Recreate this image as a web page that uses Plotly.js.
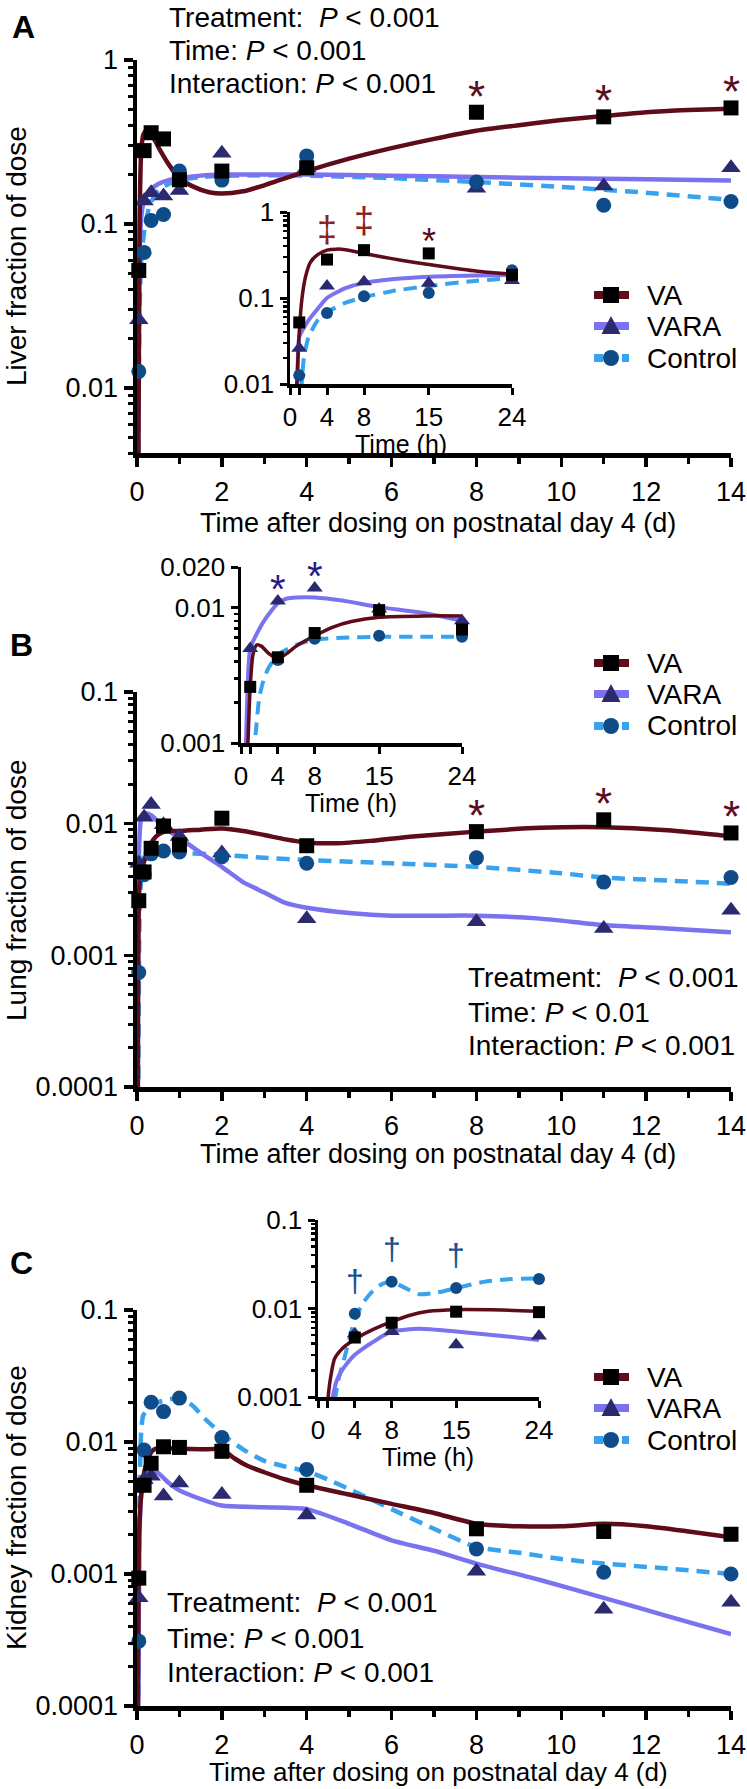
<!DOCTYPE html>
<html><head><meta charset="utf-8">
<script src="https://cdn.plot.ly/plotly-3.0.1.min.js"></script>
<style>html,body{margin:0;padding:0;background:#fff;}#chart{width:747px;height:1789px;}</style>
</head><body><div id="chart"></div>
<script>
// ---------------- DATA ----------------
const sampleHours = [1, 4, 8, 15, 24];
const sampleDays = [0.042, 0.167, 0.333, 0.625, 1, 2, 4, 8, 11, 14];

// Liver fraction of dose
const liverVA = [0.052, 0.28, 0.36, 0.33, 0.186, 0.21, 0.22, 0.48, 0.45, 0.51];
const liverVARA = [0.026, 0.138, 0.155, 0.148, 0.16, 0.27, 0.22, 0.165, 0.17, 0.22];
const liverControl = [0.0126, 0.067, 0.105, 0.114, 0.21, 0.185, 0.26, 0.18, 0.13, 0.137];
const liverMainSig = ['', '', '', '', '', '', '', '*', '*', '*'];
const liverInsetSig = ['', '‡', '‡', '*', ''];

// Lung fraction of dose
const lungVA = [0.0026, 0.0043, 0.0065, 0.0096, 0.0069, 0.011, 0.0068, 0.0087, 0.0107, 0.0085];
const lungVARA = [0.005, 0.0112, 0.014, 0.0098, 0.008, 0.006, 0.0019, 0.0018, 0.0016, 0.0022];
const lungControl = [0.00074, 0.0041, 0.0059, 0.0062, 0.0061, 0.0056, 0.005, 0.0055, 0.0036, 0.0039];
const lungMainSig = ['', '', '', '', '', '', '', '*', '*', '*'];
const lungInsetSig = ['', '*', '*', '', ''];

// Kidney fraction of dose
const kidneyVA = [0.00093, 0.0047, 0.0069, 0.0092, 0.0091, 0.0085, 0.0047, 0.0022, 0.0021, 0.002];
const kidneyVARA = [0.00066, 0.0052, 0.0055, 0.0039, 0.0049, 0.004, 0.0028, 0.00105, 0.00054, 0.00061];
const kidneyControl = [0.00031, 0.0087, 0.02, 0.017, 0.0215, 0.0108, 0.0062, 0.00155, 0.00103, 0.001];
const kidneyInsetSig = ['', '†', '†', '†', ''];

// Fitted curves, main panels (days)
const liverVACurveT = [0.03, 0.06, 0.1, 0.15, 0.22, 0.3, 0.4, 0.55, 0.75, 1, 1.3, 1.7, 2, 2.5, 3, 4, 5, 6, 7, 8, 9, 10, 11, 12, 13, 14];
const liverVACurve = [0.003, 0.1, 0.28, 0.35, 0.37, 0.36, 0.33, 0.28, 0.23, 0.19, 0.17, 0.156, 0.153, 0.158, 0.172, 0.21, 0.25, 0.29, 0.33, 0.37, 0.40, 0.43, 0.455, 0.48, 0.495, 0.505];
const liverVARACurveT = [0.02, 0.05, 0.1, 0.17, 0.3, 0.5, 0.75, 1, 1.5, 2, 3, 4, 6, 8, 10, 12, 14];
const liverVARACurve = [0.003, 0.05, 0.11, 0.14, 0.16, 0.175, 0.185, 0.19, 0.197, 0.2, 0.2, 0.2, 0.197, 0.193, 0.19, 0.187, 0.184];
const liverCtrlCurveT = [0.03, 0.06, 0.1, 0.17, 0.3, 0.5, 0.75, 1, 1.5, 2, 3, 4, 6, 8, 10, 12, 14];
const liverCtrlCurve = [0.003, 0.03, 0.06, 0.09, 0.13, 0.16, 0.175, 0.185, 0.193, 0.196, 0.198, 0.197, 0.19, 0.18, 0.168, 0.155, 0.14];

const lungVACurveT = [0.02, 0.05, 0.1, 0.2, 0.3, 0.45, 0.6, 0.8, 1, 1.5, 2, 2.5, 3, 3.5, 4, 4.7, 5.5, 6.5, 8, 9.5, 11, 12.5, 14];
const lungVACurve = [0.00008, 0.003, 0.0045, 0.0055, 0.0068, 0.008, 0.0086, 0.0088, 0.0088, 0.009, 0.0092, 0.0088, 0.0082, 0.0076, 0.0072, 0.0071, 0.0074, 0.008, 0.0087, 0.0093, 0.0094, 0.0089, 0.008];
const lungVARACurveT = [0.02, 0.04, 0.1, 0.2, 0.35, 0.6, 1, 1.5, 2, 2.5, 3, 3.5, 4, 5, 6, 7, 8, 9.5, 11, 12.5, 14];
const lungVARACurve = [0.00008, 0.005, 0.011, 0.012, 0.0115, 0.0095, 0.0078, 0.006, 0.0047, 0.0036, 0.003, 0.0025, 0.0023, 0.0021, 0.002, 0.002, 0.002, 0.0019, 0.0017, 0.0016, 0.0015];
const lungCtrlCurveT = [0.03, 0.06, 0.1, 0.15, 0.25, 0.4, 0.6, 1, 2, 3, 4, 6, 8, 10, 11, 12.5, 14];
const lungCtrlCurve = [0.00008, 0.002, 0.004, 0.0055, 0.006, 0.0061, 0.0061, 0.006, 0.0058, 0.0055, 0.0053, 0.005, 0.0047, 0.0042, 0.0039, 0.0037, 0.0035];

const kidneyVACurveT = [0.02, 0.05, 0.1, 0.2, 0.35, 0.5, 1, 1.5, 2, 2.3, 2.6, 3, 3.5, 4, 5, 6, 7, 8, 9, 10, 11, 12, 13, 14];
const kidneyVACurve = [0.00008, 0.002, 0.004, 0.0065, 0.0085, 0.009, 0.0089, 0.0088, 0.0088, 0.0075, 0.0066, 0.0059, 0.0052, 0.0047, 0.004, 0.0034, 0.0029, 0.0024, 0.0023, 0.0023, 0.0024, 0.0023, 0.0021, 0.0019];
const kidneyVARACurveT = [0.03, 0.06, 0.1, 0.2, 0.3, 0.5, 0.75, 1, 1.5, 2, 3, 4, 5, 6, 7, 8, 9.5, 11, 12.5, 14];
const kidneyVARACurve = [0.00008, 0.002, 0.004, 0.0058, 0.0062, 0.0058, 0.0049, 0.0043, 0.0037, 0.0033, 0.0032, 0.0031, 0.0024, 0.0018, 0.0015, 0.0012, 0.0009, 0.00066, 0.00048, 0.00035];
const kidneyCtrlCurveT = [0.03, 0.06, 0.1, 0.15, 0.3, 0.5, 0.75, 1, 1.3, 1.6, 2, 2.5, 3, 3.5, 4, 4.5, 5, 5.5, 6, 7, 8, 9, 10, 11, 12.5, 14];
const kidneyCtrlCurve = [0.00008, 0.004, 0.012, 0.016, 0.018, 0.02, 0.021, 0.0215, 0.019, 0.015, 0.0115, 0.0088, 0.0072, 0.0065, 0.006, 0.0052, 0.0044, 0.0037, 0.0031, 0.0022, 0.0016, 0.00145, 0.0013, 0.0012, 0.0011, 0.001];

// Fitted curves, insets (hours)
const liverInVAT = [0.7, 1, 1.3, 1.7, 2.2, 3, 4, 5, 6, 8, 10, 12, 15, 18, 21, 24];
const liverInVA = [0.008, 0.04, 0.1, 0.18, 0.26, 0.32, 0.36, 0.37, 0.365, 0.33, 0.3, 0.275, 0.245, 0.22, 0.2, 0.19];
const liverInVARAT = [0.8, 1, 1.5, 2, 3, 4, 6, 8, 11, 15, 20, 24];
const liverInVARA = [0.008, 0.035, 0.045, 0.055, 0.075, 0.1, 0.13, 0.15, 0.165, 0.177, 0.183, 0.185];
const liverInCtrlT = [1.2, 1.5, 2, 3, 4, 6, 8, 11, 15, 20, 24];
const liverInCtrl = [0.008, 0.02, 0.035, 0.055, 0.068, 0.088, 0.102, 0.12, 0.138, 0.158, 0.17];

const lungInVAT = [0.7, 1, 1.3, 1.7, 2.2, 3, 4, 5, 6, 8, 10, 12, 15, 20, 24];
const lungInVA = [0.0008, 0.0026, 0.0045, 0.0053, 0.0052, 0.0046, 0.0042, 0.0046, 0.0052, 0.0062, 0.0072, 0.0079, 0.0085, 0.0087, 0.0087];
const lungInVARAT = [0.5, 0.8, 1.0, 1.5, 2.5, 4, 5, 6, 8, 11, 15, 20, 24];
const lungInVARA = [0.0008, 0.0035, 0.005, 0.006, 0.008, 0.0108, 0.0117, 0.0119, 0.0119, 0.0113, 0.0101, 0.0091, 0.008];
const lungInCtrlT = [1.3, 1.6, 2, 2.5, 3, 4, 6, 8, 11, 15, 20, 24];
const lungInCtrl = [0.0008, 0.0012, 0.0022, 0.003, 0.0036, 0.0045, 0.0053, 0.0058, 0.006, 0.0061, 0.0061, 0.0061];

const kidneyInVAT = [1.0, 1.3, 1.8, 2.5, 3, 4, 6, 8, 10, 12, 15, 20, 24];
const kidneyInVA = [0.0008, 0.0015, 0.0027, 0.0034, 0.0038, 0.0045, 0.0058, 0.0071, 0.0084, 0.0093, 0.0097, 0.0096, 0.0093];
const kidneyInVARAT = [1.5, 2, 2.6, 3.3, 4, 5, 6, 7, 8, 11, 15, 20, 24];
const kidneyInVARA = [0.0009, 0.0015, 0.002, 0.0025, 0.003, 0.0036, 0.0042, 0.0049, 0.0055, 0.0059, 0.0055, 0.0049, 0.0044];
const kidneyInCtrlT = [1.8, 2.3, 2.8, 3.4, 4, 5, 6, 7, 8, 9.5, 11, 13, 15, 18, 21, 24];
const kidneyInCtrl = [0.0009, 0.0017, 0.0026, 0.0045, 0.0075, 0.012, 0.016, 0.019, 0.02, 0.017, 0.0145, 0.0152, 0.017, 0.02, 0.0215, 0.0218];

const mainXTicks = [0, 2, 4, 6, 8, 10, 12, 14];
const insetXTicks = [0, 1, 4, 8, 15, 24];
const insetXText = ['0', '', '4', '8', '15', '24'];
const seriesNames = ['VA', 'VARA', 'Control'];

// ---------------- STYLE / LAYOUT ----------------
const W = 747, H = 1789;
const px = x => x / W;
const py = y => 1 - y / H;
const FONT = 'Liberation Sans, Arial, Helvetica, sans-serif';
const C_VA = '#5e0b1a', C_VARA = '#7a72ef', C_CTRL = '#38a2ef';
const M_VA = '#000000', M_VARA = '#2b2a6f', M_CTRL = '#0f4b89';
const DASH = '13px,8px';

function minorLog(lo, hi) {
  const out = [];
  for (let d = Math.floor(Math.log10(lo)); d <= Math.ceil(Math.log10(hi)); d++) {
    for (let k = 2; k <= 9; k++) {
      const v = k * Math.pow(10, d);
      if (v >= lo * 0.999 && v <= hi * 1.001) out.push(v);
    }
  }
  return out;
}

function curve(xa, ya, x, y, color, dash, width) {
  return {type: 'scatter', mode: 'lines', x, y, xaxis: xa, yaxis: ya,
    line: {color, width, dash, shape: 'spline', smoothing: 0.6}, hoverinfo: 'skip', showlegend: false};
}
function pts(xa, ya, x, y, symbol, color, size, name) {
  return {type: 'scatter', mode: 'markers', name, x, y, xaxis: xa, yaxis: ya, cliponaxis: false,
    marker: {symbol, color, size, line: {width: 0}}, hoverinfo: 'skip', showlegend: false};
}

function panelTraces(xm, ym, xi, yi, d) {
  const t = [];
  t.push(curve(xi, yi, d.inCtrlT, d.inCtrl, C_CTRL, DASH, 4));
  t.push(curve(xi, yi, d.inVARAT, d.inVARA, C_VARA, 'solid', 4));
  t.push(curve(xi, yi, d.inVAT, d.inVA, C_VA, 'solid', 3.5));
  t.push(curve(xm, ym, d.ctrlT, d.ctrl, C_CTRL, DASH, 4.5));
  t.push(curve(xm, ym, d.varaT, d.vara, C_VARA, 'solid', 4.5));
  t.push(curve(xm, ym, d.vaT, d.va, C_VA, 'solid', 4.5));
  t.push(pts(xi, yi, sampleHours, d.pVARA.slice(0, 5), 'triangle-up', M_VARA, 14, 'VARA'));
  t.push(pts(xi, yi, sampleHours, d.pCtrl.slice(0, 5), 'circle', M_CTRL, 12, 'Control'));
  t.push(pts(xi, yi, sampleHours, d.pVA.slice(0, 5), 'square', M_VA, 12, 'VA'));
  t.push(pts(xm, ym, sampleDays, d.pVARA, 'triangle-up', M_VARA, 17, 'VARA'));
  t.push(pts(xm, ym, sampleDays, d.pCtrl, 'circle', M_CTRL, 15, 'Control'));
  t.push(pts(xm, ym, sampleDays, d.pVA, 'square', M_VA, 15, 'VA'));
  return t;
}

const traces = [].concat(
  panelTraces('x', 'y', 'x2', 'y2', {
    inVAT: liverInVAT, inVA: liverInVA, inVARAT: liverInVARAT, inVARA: liverInVARA, inCtrlT: liverInCtrlT, inCtrl: liverInCtrl,
    vaT: liverVACurveT, va: liverVACurve, varaT: liverVARACurveT, vara: liverVARACurve, ctrlT: liverCtrlCurveT, ctrl: liverCtrlCurve,
    pVA: liverVA, pVARA: liverVARA, pCtrl: liverControl}),
  panelTraces('x3', 'y3', 'x4', 'y4', {
    inVAT: lungInVAT, inVA: lungInVA, inVARAT: lungInVARAT, inVARA: lungInVARA, inCtrlT: lungInCtrlT, inCtrl: lungInCtrl,
    vaT: lungVACurveT, va: lungVACurve, varaT: lungVARACurveT, vara: lungVARACurve, ctrlT: lungCtrlCurveT, ctrl: lungCtrlCurve,
    pVA: lungVA, pVARA: lungVARA, pCtrl: lungControl}),
  panelTraces('x5', 'y5', 'x6', 'y6', {
    inVAT: kidneyInVAT, inVA: kidneyInVA, inVARAT: kidneyInVARAT, inVARA: kidneyInVARA, inCtrlT: kidneyInCtrlT, inCtrl: kidneyInCtrl,
    vaT: kidneyVACurveT, va: kidneyVACurve, varaT: kidneyVARACurveT, vara: kidneyVARACurve, ctrlT: kidneyCtrlCurveT, ctrl: kidneyCtrlCurve,
    pVA: kidneyVA, pVARA: kidneyVARA, pCtrl: kidneyControl})
);

function mainX(anchor) {
  return {domain: [px(137), px(731)], anchor, range: [0, 14], tickmode: 'array', tickvals: mainXTicks,
    ticks: 'outside', ticklen: 9, tickwidth: 3.5, tickcolor: '#000', ticklabelstandoff: 2,
    showline: true, linewidth: 4.5, linecolor: '#000', showgrid: false, zeroline: false,
    tickfont: {family: FONT, size: 27, color: '#000'},
    minor: {tickmode: 'linear', tick0: 1, dtick: 2, ticks: 'outside', ticklen: 6, tickwidth: 3.5, tickcolor: '#000', showgrid: false}};
}
function mainY(anchor, top, bottom, lo, hi, vals, text) {
  return {domain: [py(bottom), py(top)], anchor, type: 'log', range: [Math.log10(lo), Math.log10(hi)],
    tickmode: 'array', tickvals: vals, ticktext: text,
    ticks: 'outside', ticklen: 9, tickwidth: 3.5, tickcolor: '#000',
    showline: true, linewidth: 4.5, linecolor: '#000', showgrid: false, zeroline: false,
    tickfont: {family: FONT, size: 27, color: '#000'},
    minor: {tickmode: 'array', tickvals: minorLog(lo, hi), ticks: 'outside', ticklen: 5, tickwidth: 3, tickcolor: '#000', showgrid: false}};
}
function insetX(anchor, x0, x1) {
  return {domain: [px(x0), px(x1)], anchor, range: [0, 24], tickmode: 'array', tickvals: insetXTicks, ticktext: insetXText,
    ticks: 'outside', ticklen: 7, tickwidth: 3, tickcolor: '#000', ticklabelstandoff: 0,
    showline: true, linewidth: 3.5, linecolor: '#000', showgrid: false, zeroline: false,
    tickfont: {family: FONT, size: 26, color: '#000'}};
}
function insetY(anchor, top, bottom, lo, hi, vals, text) {
  return {domain: [py(bottom), py(top)], anchor, type: 'log', range: [Math.log10(lo), Math.log10(hi)],
    tickmode: 'array', tickvals: vals, ticktext: text,
    ticks: 'outside', ticklen: 7, tickwidth: 3, tickcolor: '#000',
    showline: true, linewidth: 3.5, linecolor: '#000', showgrid: false, zeroline: false,
    tickfont: {family: FONT, size: 26, color: '#000'},
    minor: {tickmode: 'array', tickvals: minorLog(lo, hi), ticks: 'outside', ticklen: 4, tickwidth: 2.5, tickcolor: '#000', showgrid: false}};
}

const ann = [];
const shapes = [];
function txt(x, y, text, size, opts) {
  ann.push(Object.assign({xref: 'paper', yref: 'paper', x: px(x), y: py(y), text, showarrow: false,
    font: {family: FONT, size, color: '#000'}, xanchor: 'center', yanchor: 'middle'}, opts || {}));
}
function sig(xa, ya, times, vals, syms, colorMap, size, shiftMap) {
  syms.forEach((s, i) => {
    if (!s) return;
    ann.push({xref: xa, yref: ya, x: times[i], y: Math.log10(vals[i]), text: s, showarrow: false,
      font: {family: FONT, size, color: colorMap[s]}, xanchor: 'center', yanchor: 'middle', yshift: shiftMap[s]});
  });
}

// legend drawn as shapes + text (rows given by centre y, px)
function legend(rows) {
  const lc = [C_VA, C_VARA, C_CTRL], mc = [M_VA, M_VARA, M_CTRL];
  rows.forEach((yc, i) => {
    shapes.push({type: 'line', xref: 'paper', yref: 'paper', x0: px(594), x1: px(629), y0: py(yc), y1: py(yc),
      line: {color: lc[i], width: 8, dash: i === 2 ? '9px,5px' : 'solid'}});
    const cx = 611, r = 8;
    if (i === 0) {
      shapes.push({type: 'rect', xref: 'paper', yref: 'paper', x0: px(cx - r), x1: px(cx + r), y0: py(yc + r), y1: py(yc - r),
        fillcolor: mc[i], line: {width: 0}});
    } else if (i === 1) {
      const p = `M ${px(cx - 9.5)} ${py(yc + 8)} L ${px(cx + 9.5)} ${py(yc + 8)} L ${px(cx)} ${py(yc - 10)} Z`;
      shapes.push({type: 'path', xref: 'paper', yref: 'paper', path: p, fillcolor: mc[i], line: {width: 0}});
    } else {
      shapes.push({type: 'circle', xref: 'paper', yref: 'paper', x0: px(cx - r), x1: px(cx + r), y0: py(yc + r), y1: py(yc - r),
        fillcolor: mc[i], line: {width: 0}});
    }
    txt(645, yc, seriesNames[i], 28, {xanchor: 'left'});
  });
}
legend([295, 326, 358]);
legend([663, 694, 726]);
legend([1377, 1408, 1440]);

// panel letters
txt(23, 27, '<b>A</b>', 32);
txt(21, 645, '<b>B</b>', 32);
txt(21, 1263, '<b>C</b>', 32);
// statistics
const statLines = ['Treatment:&nbsp; <i>P</i> &lt; 0.001', 'Time: <i>P</i> &lt; 0.001', 'Interaction: <i>P</i> &lt; 0.001'];
const statLinesB = ['Treatment:&nbsp; <i>P</i> &lt; 0.001', 'Time: <i>P</i> &lt; 0.01', 'Interaction: <i>P</i> &lt; 0.001'];
[17, 50, 83].forEach((y, i) => txt(167, y, statLines[i], 28, {xanchor: 'left'}));
[977, 1012, 1045].forEach((y, i) => txt(466, y, statLinesB[i], 28, {xanchor: 'left'}));
[1602, 1638, 1672].forEach((y, i) => txt(165, y, statLines[i], 28, {xanchor: 'left'}));
// axis titles
const xTitle = 'Time after dosing on postnatal day 4 (d)';
txt(438, 523, xTitle, 27);
txt(438, 1154, xTitle, 27);
txt(438, 1772, xTitle, 26);
txt(16, 256, 'Liver fraction of dose', 28, {textangle: -90});
txt(16, 890, 'Lung fraction of dose', 28, {textangle: -90});
txt(16, 1508, 'Kidney fraction of dose', 28, {textangle: -90});
txt(401, 444, 'Time (h)', 25);
txt(351, 803, 'Time (h)', 25);
txt(428, 1457, 'Time (h)', 25);
// significance marks
const maroon = '#5a0c22', redD = '#8c1f1f', navy = '#2a1a85', blueD = '#15508f';
sig('x', 'y', sampleDays, liverVA, liverMainSig, {'*': maroon}, 44, {'*': 16});
sig('x2', 'y2', sampleHours, liverVA, liverInsetSig, {'‡': redD, '*': maroon}, 36, {'‡': 30, '*': 12});
sig('x3', 'y3', sampleDays, lungVA, lungMainSig, {'*': maroon}, 44, {'*': 16});
sig('x4', 'y4', sampleHours, lungVARA, lungInsetSig, {'*': navy}, 40, {'*': 12});
sig('x6', 'y6', sampleHours, kidneyControl, kidneyInsetSig, {'†': blueD}, 32, {'†': 33});

const layout = {
  width: W, height: H, margin: {l: 0, r: 0, t: 0, b: 0},
  paper_bgcolor: '#ffffff', plot_bgcolor: 'rgba(0,0,0,0)',
  font: {family: FONT, color: '#000'},
  showlegend: false,
  xaxis: mainX('y'), yaxis: mainY('x', 60, 453, 0.004, 1, [0.01, 0.1, 1], ['0.01', '0.1', '1']),
  xaxis2: insetX('y2', 290, 512), yaxis2: insetY('x2', 212, 384, 0.01, 1, [0.01, 0.1, 1], ['0.01', '0.1', '1']),
  xaxis3: mainX('y3'), yaxis3: mainY('x3', 692, 1087, 0.0001, 0.1, [0.0001, 0.001, 0.01, 0.1], ['0.0001', '0.001', '0.01', '0.1']),
  xaxis4: insetX('y4', 241, 462), yaxis4: insetY('x4', 567, 743, 0.001, 0.02, [0.001, 0.01, 0.02], ['0.001', '0.01', '0.020']),
  xaxis5: mainX('y5'), yaxis5: mainY('x5', 1310, 1706, 0.0001, 0.1, [0.0001, 0.001, 0.01, 0.1], ['0.0001', '0.001', '0.01', '0.1']),
  xaxis6: insetX('y6', 318, 539), yaxis6: insetY('x6', 1220, 1397, 0.001, 0.1, [0.001, 0.01, 0.1], ['0.001', '0.01', '0.1']),
  annotations: ann,
  shapes: shapes
};

Plotly.newPlot('chart', traces, layout, {staticPlot: true, displayModeBar: false});
</script></body></html>
